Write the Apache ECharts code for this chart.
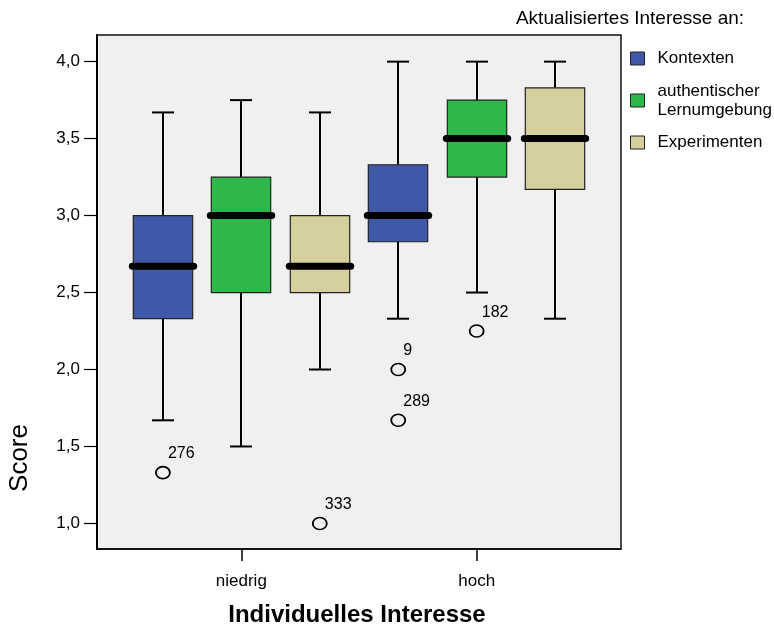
<!DOCTYPE html>
<html>
<head>
<meta charset="utf-8">
<script src="https://cdn.jsdelivr.net/npm/echarts@6/dist/echarts.min.js"></script>
<style>html,body{margin:0;padding:0;background:#fff}#c{width:774px;height:626px}</style>
</head>
<body>
<div id="c"></div>
<script>
// ---- data ----
const categories = ['niedrig', 'hoch'];
const seriesNames = ['Kontexten', 'authentischer\nLernumgebung', 'Experimenten'];
const seriesColors = ['#3f58a8', '#2eb84a', '#d4cf9c'];
// [min, Q1, median, Q3, max] per category
const kontexten = [[1.67, 2.33, 2.67, 3.0, 3.67], [2.33, 2.83, 3.0, 3.33, 4.0]];
const authentisch = [[1.5, 2.5, 3.0, 3.25, 3.75], [2.5, 3.25, 3.5, 3.75, 4.0]];
const experimenten = [[2.0, 2.5, 2.67, 3.0, 3.67], [2.33, 3.17, 3.5, 3.83, 4.0]];
// outliers: [categoryIndex, value, caseLabel]
const kontextenOutliers = [[0, 1.33, '276'], [1, 2.0, '9'], [1, 1.67, '289']];
const authentischOutliers = [[1, 2.25, '182']];
const experimentenOutliers = [[0, 1.0, '333']];
const yTicks = [1.0, 1.5, 2.0, 2.5, 3.0, 3.5, 4.0];

const boxStats = [kontexten, authentisch, experimenten];
const outlierSets = [kontextenOutliers, authentischOutliers, experimentenOutliers];
const nSeries = seriesNames.length;
const FONT = '"Liberation Sans", Arial, sans-serif';

function xPos(cat, s) { return cat * nSeries + s; }

const BOX_W = 0.757, CAP_W = 0.28;

function renderBox(params, api) {
  const x = api.value(0);
  const lo = api.coord([x, api.value(1)]);
  const q1 = api.coord([x, api.value(2)]);
  const md = api.coord([x, api.value(3)]);
  const q3 = api.coord([x, api.value(4)]);
  const hi = api.coord([x, api.value(5)]);
  const bw = api.size([BOX_W, 0])[0];
  const cw = api.size([CAP_W, 0])[0];
  const cx = Math.round(lo[0]);
  const fill = api.visual('color');
  const blk = { stroke: '#000', lineWidth: 2 };
  return {
    type: 'group',
    children: [
      { type: 'line', shape: { x1: cx, y1: hi[1], x2: cx, y2: q3[1] }, style: blk },
      { type: 'line', shape: { x1: cx, y1: q1[1], x2: cx, y2: lo[1] }, style: blk },
      { type: 'line', shape: { x1: cx - cw / 2, y1: hi[1], x2: cx + cw / 2, y2: hi[1] }, style: blk },
      { type: 'line', shape: { x1: cx - cw / 2, y1: lo[1], x2: cx + cw / 2, y2: lo[1] }, style: blk },
      { type: 'rect', shape: { x: cx - bw / 2, y: q3[1], width: bw, height: q1[1] - q3[1] },
        style: { fill: fill, stroke: '#222', lineWidth: 1.2 } },
      { type: 'line', shape: { x1: cx - bw / 2 - 1, y1: md[1], x2: cx + bw / 2 + 1, y2: md[1] },
        style: { stroke: '#000', lineWidth: 7, lineCap: 'round' } }
    ]
  };
}

const series = [];
boxStats.forEach(function (stats, s) {
  series.push({
    name: seriesNames[s],
    type: 'custom',
    renderItem: renderBox,
    itemStyle: { color: seriesColors[s], borderColor: '#222', borderWidth: 1 },
    encode: { x: 0, y: [1, 2, 3, 4, 5] },
    data: stats.map(function (st, c) { return [xPos(c, s)].concat(st); }),
    z: 2
  });
});
outlierSets.forEach(function (set, s) {
  series.push({
    name: 'outliers_' + s,
    type: 'scatter',
    symbol: 'circle',
    symbolSize: [14, 12],
    itemStyle: { color: '#f0f0f0', borderColor: '#000', borderWidth: 1.7, opacity: 1 },
    label: {
      show: true, position: [13, -20], color: '#000', fontSize: 16, fontFamily: FONT,
      formatter: function (p) { return p.data[2]; }
    },
    data: set.map(function (o) { return [xPos(o[0], s), o[1], o[2]]; }),
    z: 3
  });
});

const chart = echarts.init(document.getElementById('c'), null, { renderer: 'canvas' });
chart.setOption({
  animation: false,
  backgroundColor: '#fff',
  grid: {
    left: 97, right: 153, top: 35, bottom: 77,
    show: true, backgroundColor: '#f0f0f0', borderColor: '#111', borderWidth: 1.5
  },
  xAxis: {
    type: 'value', min: -0.84, max: 5.84,
    splitLine: { show: false },
    axisLine: { show: true, onZero: false, lineStyle: { color: '#000', width: 1.5 } },
    axisTick: { show: true, length: 12, customValues: categories.map(function (c, i) { return xPos(i, 1); }), lineStyle: { color: '#000', width: 1.5 } },
    axisLabel: {
      customValues: categories.map(function (c, i) { return xPos(i, 1); }),
      margin: 24, color: '#000', fontSize: 17, fontFamily: FONT,
      formatter: function (v) { return categories[Math.round((v - 1) / nSeries)]; }
    }
  },
  yAxis: {
    type: 'value', min: 0.834, max: 4.173,
    splitLine: { show: false },
    axisLine: { show: true, onZero: false, lineStyle: { color: '#000', width: 2 } },
    axisTick: { show: true, length: 13, customValues: yTicks, lineStyle: { color: '#000', width: 1.2 } },
    axisLabel: {
      customValues: yTicks, margin: 17, color: '#000', fontSize: 17, fontFamily: FONT,
      formatter: function (v) { return v.toFixed(1).replace('.', ','); }
    }
  },
  legend: {
    data: seriesNames,
    orient: 'vertical',
    left: 630, top: 49, padding: 0,
    itemWidth: 14, itemHeight: 13, itemGap: 13.5,
    icon: 'rect',
    itemStyle: { borderColor: '#222', borderWidth: 1 },
    textStyle: { color: '#000', fontSize: 17, fontFamily: FONT, lineHeight: 19, padding: [0, 0, 0, 8] },
    selectedMode: false
  },
  graphic: [
    { type: 'text', x: 630, y: 19,
      style: { text: 'Aktualisiertes Interesse an:', fill: '#000', font: '19px ' + FONT, align: 'center', verticalAlign: 'middle' } },
    { type: 'text', x: 20, y: 458, rotation: Math.PI / 2,
      style: { text: 'Score', fill: '#000', font: '26px ' + FONT, align: 'center', verticalAlign: 'middle' } },
    { type: 'text', x: 357, y: 615,
      style: { text: 'Individuelles Interesse', fill: '#000', font: 'bold 24px ' + FONT, align: 'center', verticalAlign: 'middle' } }
  ],
  series: series
});
</script>
</body>
</html>
